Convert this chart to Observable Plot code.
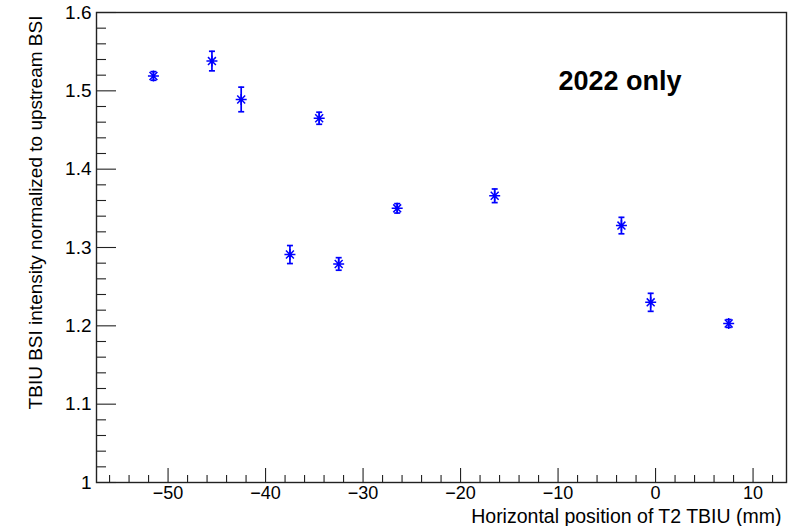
<!DOCTYPE html>
<html><head><meta charset="utf-8">
<script src="https://cdn.jsdelivr.net/npm/d3@7"></script>
<script src="https://cdn.jsdelivr.net/npm/@observablehq/plot@0.6"></script>
<style>body{margin:0;background:#fff}</style>
</head><body><div id="chart"></div>
<script>
const positions = [-51.5, -45.5, -42.5, -37.5, -34.5, -32.5, -26.5, -16.5, -3.5, -0.5, 7.5];
const ratios    = [1.519, 1.538, 1.489, 1.291, 1.465, 1.279, 1.350, 1.366, 1.328, 1.230, 1.203];
const errors    = [0.0055, 0.0125, 0.0157, 0.0115, 0.0077, 0.008, 0.006, 0.0087, 0.0105, 0.0115, 0.005];
const xMajorTicks = [-50, -40, -30, -20, -10, 0, 10];
const yMajorTicks = [1, 1.1, 1.2, 1.3, 1.4, 1.5, 1.6];
const xLabel = "Horizontal position of T2 TBIU (mm)";
const yLabel = "TBIU BSI intensity normalized to upstream BSI";
const note = "2022 only";

const xMinorTicks = d3.range(-56, 13, 2).filter(v => v % 10 !== 0);
const yMinorTicks = d3.range(0, 31).map(i => 1 + i * 0.02).filter((v, i) => i % 5 !== 0);

const data = positions.map((x, i) => ({x, y: ratios[i], lo: ratios[i] - errors[i], hi: ratios[i] + errors[i]}));

const W = 805, H = 526, ML = 96, MR = 19, MT = 12, MB = 44;
const IW = W - ML - MR, IH = H - MT - MB;

const asterisk = {draw(ctx, size) {
  const r = Math.sqrt(size / Math.PI), d = r * 0.72;
  ctx.moveTo(-r, 0); ctx.lineTo(r, 0);
  ctx.moveTo(0, -r); ctx.lineTo(0, r);
  ctx.moveTo(-d, -d); ctx.lineTo(d, d);
  ctx.moveTo(-d, d); ctx.lineTo(d, -d);
}};
const cap = {draw(ctx, size) {
  const r = Math.sqrt(size / Math.PI);
  ctx.moveTo(-r, 0); ctx.lineTo(r, 0);
}};
const fmtX = d => d < 0 ? "\u2212" + (-d) : String(d);
const axisColor = "#222";
const blue = "#0000ff";

const chart = Plot.plot({
  width: W, height: H,
  marginLeft: ML, marginRight: MR, marginTop: MT, marginBottom: MB,
  style: {fontFamily: "'Liberation Sans', Arial, sans-serif", background: "#fff", color: "#000"},
  x: {domain: [-57.34, 13.43]},
  y: {domain: [1.0, 1.6]},
  marks: [
    Plot.tickX(xMajorTicks, {x: d => d, insetTop: IH - 14, stroke: axisColor, strokeWidth: 1.1}),
    Plot.tickX(xMinorTicks, {x: d => d, insetTop: IH - 7, stroke: axisColor, strokeWidth: 1.1}),
    Plot.tickY(yMajorTicks, {y: d => d, insetRight: IW - 20, stroke: axisColor, strokeWidth: 1.1}),
    Plot.tickY(yMinorTicks, {y: d => d, insetRight: IW - 10, stroke: axisColor, strokeWidth: 1.1}),
    Plot.axisX({ticks: xMajorTicks, tickSize: 0, tickPadding: 4, tickFormat: fmtX, fontSize: 18, label: null, fill: "#000"}),
    Plot.axisY({ticks: yMajorTicks, tickSize: 0, tickPadding: 5, tickFormat: d => String(d), fontSize: 19, label: null, fill: "#000"}),
    Plot.frame({stroke: axisColor, strokeWidth: 1.4}),
    Plot.ruleX(data, {x: "x", y1: "lo", y2: "hi", stroke: blue, strokeWidth: 1.7}),
    Plot.dot(data, {x: "x", y: "lo", symbol: cap, r: 3, stroke: blue, strokeWidth: 1.7}),
    Plot.dot(data, {x: "x", y: "hi", symbol: cap, r: 3, stroke: blue, strokeWidth: 1.7}),
    Plot.dot(data, {x: "x", y: "y", symbol: asterisk, r: 5.5, stroke: blue, strokeWidth: 1.5}),
    Plot.text([xLabel], {frameAnchor: "bottom-right", textAnchor: "end", lineAnchor: "bottom", dx: -5, dy: 40, fontSize: 19.5, fill: "#000"}),
    Plot.text([yLabel], {frameAnchor: "top-left", textAnchor: "end", lineAnchor: "middle", rotate: -90, dx: -61, dy: 3, fontSize: 19, fill: "#000"}),
    Plot.text([note], {frameAnchor: "top-right", textAnchor: "end", lineAnchor: "top", dx: -105, dy: 58, fontSize: 27, fontWeight: "bold", fill: "#000"})
  ]
});
document.getElementById("chart").appendChild(chart);
</script>
</body></html>
